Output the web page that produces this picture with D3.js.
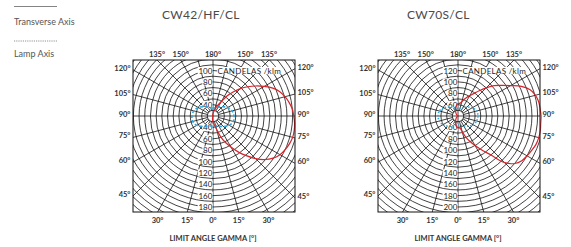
<!DOCTYPE html>
<html>
<head>
<meta charset="utf-8">
<script src="https://cdn.jsdelivr.net/npm/d3@7"></script>
<style>
  body { margin: 0; background: #fff; }
  svg { display: block; font-family: Lato, "Open Sans", sans-serif; }
</style>
</head>
<body>
<svg id="chart" width="571" height="247"></svg>
<script>
// ---- data ----
const titles = ["CW42/HF/CL", "CW70S/CL"];
const poleCd = [20, 40];   // candela value sitting at the pole of each diagram
const upLabels = [[40, 60, 80, 100], [60, 80, 100, 120]];
const downLabels = [[40, 60, 80, 100, 120, 140, 160, 180], [60, 80, 100, 120, 140, 160, 180, 200]];
const angleTicks = [0, 15, 30, 45, 60, 75, 90, 105, 120, 135, 150, 180];

// transverse axis (red), gamma in degrees, negative = left half
const transGamma = [-180, -165, -150, -120, -90, -60, -30, -15, -5,
  0, 5, 10, 15, 20, 25, 30, 35, 40, 45, 50, 55, 60, 65, 70, 75, 80, 85, 90,
  95, 100, 105, 110, 115, 120, 125, 130, 135, 140, 145, 150, 155, 160, 165, 170, 180];
const transCW42 = [24, 22, 21, 20, 20, 20, 21, 23, 27,
  30, 33, 37, 44, 58, 71, 83, 97, 111, 126, 139, 149, 156, 160, 163, 165, 165, 164, 162,
  160, 156, 151, 145, 136, 124, 112, 100, 88, 75, 63, 50, 42, 36, 31, 28, 24];
const transCW70 = [62, 56, 48, 42, 40, 42, 48, 55, 60,
  61, 61, 62, 69, 79, 89, 100, 113, 129, 156, 170, 177, 180, 183, 186, 187, 187, 186, 186,
  185, 184, 181, 175, 163, 147, 134, 123, 110, 98, 88, 81, 76, 71, 66, 63, 62];

// lamp axis (blue dashed)
const lampGamma = [-180, -165, -150, -135, -120, -105, -90, -75, -60, -45, -30, -15,
  0, 15, 30, 45, 60, 75, 90, 105, 120, 135, 150, 165, 180];
const lampCW42 = [34, 35, 38, 43, 50, 55, 57, 57, 53, 46, 41, 38,
  38, 38, 41, 46, 53, 57, 57, 55, 50, 43, 38, 35, 34];
const lampCW70 = [54, 54, 57, 62, 69, 74, 75, 74, 71, 65, 60, 57,
  56, 57, 60, 65, 71, 74, 75, 74, 69, 62, 57, 54, 54];

// ---- layout ----
const plotW = 162, plotH = 152, plotTop = 60;
const poleDx = 80, poleDy = 56;
const rSpan = 91;          // px covered by 160 cd

const svg = d3.select("#chart");
const defs = svg.append("defs");

// legend
svg.append("line").attr("x1", 14).attr("x2", 57).attr("y1", 6.5).attr("y2", 6.5)
  .attr("stroke", "#777").attr("stroke-width", 0.9);
svg.append("text").attr("x", 14).attr("y", 24.5).attr("font-size", 9).attr("fill", "#555")
  .text("Transverse Axis");
svg.append("line").attr("x1", 14).attr("x2", 57).attr("y1", 41).attr("y2", 41)
  .attr("stroke", "#777").attr("stroke-width", 0.8).attr("stroke-dasharray", "1.2,1");
svg.append("text").attr("x", 14).attr("y", 57).attr("font-size", 9).attr("fill", "#555")
  .text("Lamp Axis");

const panels = [
  { left: 133, title: titles[0], base: poleCd[0], up: upLabels[0], down: downLabels[0],
    trans: transCW42, lamp: lampCW42, dash: "3,2" },
  { left: 378, title: titles[1], base: poleCd[1], up: upLabels[1], down: downLabels[1],
    trans: transCW70, lamp: lampCW70, dash: "1.3,1.7" }
];

panels.forEach((p, i) => drawPanel(p, i));

function drawPanel(p, i) {
  const x0 = p.left, x1 = p.left + plotW, y0 = plotTop, y1 = plotTop + plotH;
  const cx = x0 + poleDx, cy = y0 + poleDy;
  const r = d3.scaleLinear().domain([p.base, p.base + 160]).range([0, rSpan]);
  const rad = g => g * Math.PI / 180;
  const pt = (g, d) => [cx + d * Math.sin(rad(g)), cy + d * Math.cos(rad(g))];

  const g = svg.append("g");

  g.append("text").attr("x", x0 + 29).attr("y", 19).attr("font-size", 12)
    .attr("fill", "#4a4a4a").attr("letter-spacing", 0.3).text(p.title);

  const clipId = "clip" + i;
  defs.append("clipPath").attr("id", clipId).append("rect")
    .attr("x", x0).attr("y", y0).attr("width", plotW).attr("height", plotH);

  const grid = g.append("g").attr("clip-path", `url(#${clipId})`)
    .attr("fill", "none").attr("stroke", "#111").attr("stroke-width", 0.8);

  grid.selectAll("circle").data(d3.range(p.base + 10, p.base + 261, 10)).join("circle")
    .attr("cx", cx).attr("cy", cy).attr("r", d => r(d));

  // rays every 15 degrees; only the main axes run into the pole
  const inner = d => (d % 90 === 0 ? 0 : r(p.base + 10));
  grid.selectAll("line").data(d3.range(-165, 181, 15)).join("line")
    .attr("x1", d => pt(d, inner(d))[0]).attr("y1", d => pt(d, inner(d))[1])
    .attr("x2", d => pt(d, 220)[0]).attr("y2", d => pt(d, 220)[1]);

  // candela labels on the vertical axis
  const lab = g.append("g").attr("font-size", 8).attr("fill", "#222");
  const addLabel = (v, y) => {
    const t = lab.append("text").attr("x", cx - 0.6).attr("y", y)
      .attr("text-anchor", "end").attr("dominant-baseline", "central").text(v);
    const w = t.node().getComputedTextLength();
    lab.insert("rect", () => t.node())
      .attr("x", cx - 0.6 - w - 0.8).attr("y", y - 3.6).attr("width", w + 1.1).attr("height", 7.2)
      .attr("fill", "#fff");
  };
  p.up.forEach(v => addLabel(v, cy - r(v)));
  p.down.forEach(v => addLabel(v, cy + r(v)));

  const topY = cy - r(p.up[p.up.length - 1]);
  const cand = lab.append("text").attr("x", cx + 4.5).attr("y", topY)
    .attr("dominant-baseline", "central").attr("letter-spacing", 0.3).text("CANDELAS /klm");
  const cw = cand.node().getComputedTextLength();
  lab.insert("rect", () => cand.node())
    .attr("x", cx + 4).attr("y", topY - 3.6).attr("width", cw + 1.5).attr("height", 7.2)
    .attr("fill", "#fff");

  // curves
  const radial = d3.lineRadial()
    .angle(d => Math.PI - rad(d[0]))
    .radius(d => Math.max(0, r(d[1])))
    .curve(d3.curveCatmullRom);

  const curves = g.append("g").attr("transform", `translate(${cx},${cy})`).attr("fill", "none");
  curves.append("path")
    .attr("d", radial(lampGamma.map((a, k) => [a, p.lamp[k]])))
    .attr("stroke", "#2aa9e0").attr("stroke-width", 1.6).attr("stroke-dasharray", p.dash);
  curves.append("path")
    .attr("d", radial(transGamma.map((a, k) => [a, p.trans[k]])))
    .attr("stroke", "#d8232a").attr("stroke-width", 1.2);

  g.append("rect").attr("x", x0).attr("y", y0).attr("width", plotW).attr("height", plotH)
    .attr("fill", "none").attr("stroke", "#111").attr("stroke-width", 1);

  // gamma labels where the 15 degree rays leave the frame
  const ang = g.append("g").attr("font-size", 7.5).attr("font-weight", 700).attr("fill", "#333");
  angleTicks.forEach(t => {
    const sides = (t === 0 || t === 180) ? [1] : [-1, 1];
    sides.forEach(s => {
      const a = rad(s * t), dx = Math.sin(a), dy = Math.cos(a);
      const kx = dx > 1e-9 ? (x1 - cx) / dx : dx < -1e-9 ? (x0 - cx) / dx : Infinity;
      const ky = dy > 1e-9 ? (y1 - cy) / dy : dy < -1e-9 ? (y0 - cy) / dy : Infinity;
      const k = Math.min(kx, ky);
      const ex = cx + k * dx, ey = cy + k * dy;
      const txt = t + "°";
      if (ky <= kx) {
        ang.append("text").attr("x", ex).attr("y", dy < 0 ? y0 - 3 : y1 + 10.5)
          .attr("text-anchor", "middle").text(txt);
      } else {
        ang.append("text").attr("x", dx < 0 ? x0 - 2.5 : x1 + 2.5).attr("y", ey - 1.5)
          .attr("text-anchor", dx < 0 ? "end" : "start")
          .attr("dominant-baseline", "central").text(txt);
      }
    });
  });

  g.append("text").attr("x", cx).attr("y", 241).attr("text-anchor", "middle")
    .attr("font-size", 7.5).attr("font-weight", 700).attr("fill", "#333")
    .text("LIMIT ANGLE GAMMA [°]");
}
</script>
</body>
</html>
